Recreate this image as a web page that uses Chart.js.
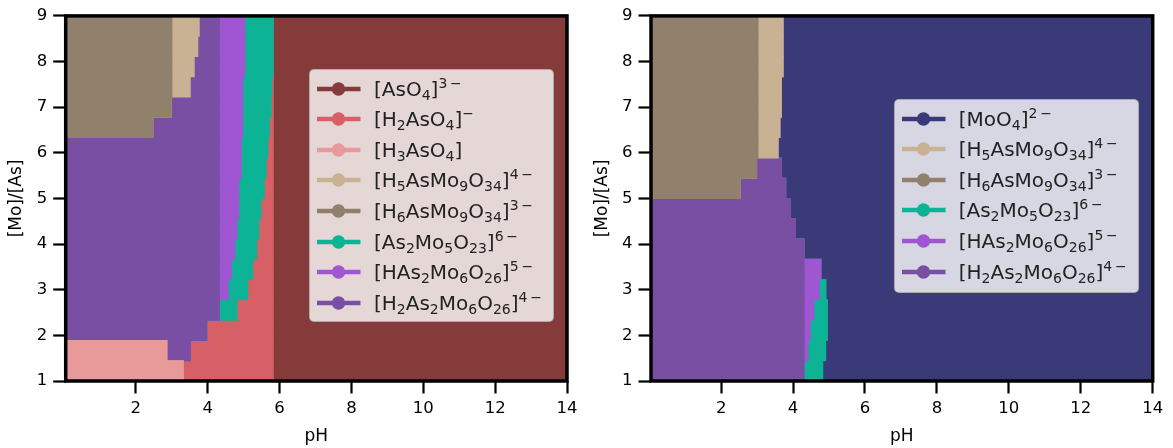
<!DOCTYPE html>
<html>
<head>
<meta charset="utf-8">
<script src="https://cdn.jsdelivr.net/npm/chart.js@4.4.0/dist/chart.umd.min.js"></script>
<style>
    body { margin: 0; background: #fff; width: 1173px; height: 448px; overflow: hidden; position: relative; font-family: "DejaVu Sans", sans-serif; }
    canvas { position: absolute; top: 0; }
    #left { left: 0; }
    #right { left: 586px; }
    .legend { position: absolute; width: 245px; box-sizing: border-box; padding-top: 3px; background: rgba(255, 255, 255, 0.8); border: 1.8px solid rgba(160, 160, 160, 0.8); border-radius: 5px; color: #222; font-size: 20px; }
    .item { height: 30.6px; display: flex; align-items: center; white-space: nowrap; }
    .item svg { margin-left: 4.7px; margin-right: 13px; flex: none; }
    .item span { line-height: 1; }
    sub { font-size: 0.7em; vertical-align: -0.28em; line-height: 0; }
    sup { font-size: 0.7em; vertical-align: 0.55em; line-height: 0; }
</style>
</head>
<body>
<canvas id="left" width="586" height="448"></canvas>
<canvas id="right" width="587" height="448"></canvas>
<div id="legend-left" class="legend" style="left:309.3px; top:69.3px; height:253px;"></div>
<div id="legend-right" class="legend" style="left:894px; top:99.3px; height:194px;"></div>
<script>

// Data

// [Mo]/[As] rows of the grid (row centres, bottom -> top)
var ratioRows = [1.222, 1.667, 2.111, 2.556, 3.000, 3.444, 3.889, 4.333, 4.778,
                 5.222, 5.667, 6.111, 6.556, 7.000, 7.444, 7.889, 8.333, 8.778];

var xTicks = [2, 4, 6, 8, 10, 12, 14];
var yTicks = [1, 2, 3, 4, 5, 6, 7, 8, 9];
var phMin = 0.05;
var phMax = 14;

// upper pH edge of every species field, per row (a field that is absent ends where the previous one ends)
var leftH3AsO4  = [3.34, 2.88, 0.05, 0.05, 0.05, 0.05, 0.05, 0.05, 0.05, 0.05, 0.05, 0.05, 0.05, 0.05, 0.05, 0.05, 0.05, 0.05];
var leftH6AsMo9 = [3.34, 2.88, 0.05, 0.05, 0.05, 0.05, 0.05, 0.05, 0.05, 0.05, 0.05, 0.05, 2.49, 3.00, 3.02, 3.02, 3.02, 3.02];
var leftH5AsMo9 = [3.34, 2.88, 0.05, 0.05, 0.05, 0.05, 0.05, 0.05, 0.05, 0.05, 0.05, 0.05, 2.49, 3.00, 3.53, 3.64, 3.74, 3.78];
var leftH2As2Mo6 = [3.34, 3.53, 3.99, 4.34, 4.34, 4.34, 4.34, 4.34, 4.34, 4.34, 4.34, 4.34, 4.34, 4.34, 4.34, 4.34, 4.34, 4.34];
var leftHAs2Mo6 = [3.34, 3.53, 3.99, 4.34, 4.59, 4.68, 4.77, 4.83, 4.88, 4.88, 4.95, 4.95, 4.99, 4.99, 4.99, 5.05, 5.05, 5.05];
var leftAs2Mo5  = [3.34, 3.53, 3.99, 4.83, 5.13, 5.27, 5.38, 5.44, 5.50, 5.59, 5.64, 5.69, 5.73, 5.78, 5.80, 5.84, 5.84, 5.84];
var leftH2AsO4  = [5.84, 5.84, 5.84, 5.84, 5.84, 5.84, 5.84, 5.84, 5.84, 5.84, 5.84, 5.84, 5.84, 5.84, 5.84, 5.84, 5.84, 5.84];
var leftAsO4    = [14, 14, 14, 14, 14, 14, 14, 14, 14, 14, 14, 14, 14, 14, 14, 14, 14, 14];

var rightH6AsMo9 = [0.05, 0.05, 0.05, 0.05, 0.05, 0.05, 0.05, 0.05, 0.05, 2.54, 3.00, 3.04, 3.04, 3.04, 3.04, 3.04, 3.04, 3.04];
var rightH5AsMo9 = [0.05, 0.05, 0.05, 0.05, 0.05, 0.05, 0.05, 0.05, 0.05, 2.54, 3.00, 3.60, 3.65, 3.69, 3.69, 3.74, 3.74, 3.74];
var rightH2As2Mo6 = [4.32, 4.32, 4.32, 4.32, 4.32, 4.32, 4.32, 4.08, 3.94, 3.81, 3.69, 3.60, 3.65, 3.69, 3.69, 3.74, 3.74, 3.74];
var rightHAs2Mo6 = [4.32, 4.43, 4.49, 4.59, 4.74, 4.79, 4.32, 4.08, 3.94, 3.81, 3.69, 3.60, 3.65, 3.69, 3.69, 3.74, 3.74, 3.74];
var rightAs2Mo5  = [4.84, 4.92, 4.97, 4.97, 4.93, 4.79, 4.32, 4.08, 3.94, 3.81, 3.69, 3.60, 3.65, 3.69, 3.69, 3.74, 3.74, 3.74];
var rightMoO4    = [14, 14, 14, 14, 14, 14, 14, 14, 14, 14, 14, 14, 14, 14, 14, 14, 14, 14];

var colors = {
    AsO4: '#843b3a', H2AsO4: '#d75f66', H3AsO4: '#e8999a', H5AsMo9: '#c9b293', H6AsMo9: '#91806c',
    As2Mo5: '#0cb495', HAs2Mo6: '#a055d2', H2As2Mo6: '#784fa3', MoO4: '#3a3a78'
};

var labels = {
    AsO4: '[AsO<sub>4</sub>]<sup>3\u2009\u2212</sup>',
    H2AsO4: '[H<sub>2</sub>AsO<sub>4</sub>]<sup>\u2212</sup>',
    H3AsO4: '[H<sub>3</sub>AsO<sub>4</sub>]',
    H5AsMo9: '[H<sub>5</sub>AsMo<sub>9</sub>O<sub>34</sub>]<sup>4\u2009\u2212</sup>',
    H6AsMo9: '[H<sub>6</sub>AsMo<sub>9</sub>O<sub>34</sub>]<sup>3\u2009\u2212</sup>',
    As2Mo5: '[As<sub>2</sub>Mo<sub>5</sub>O<sub>23</sub>]<sup>6\u2009\u2212</sup>',
    HAs2Mo6: '[HAs<sub>2</sub>Mo<sub>6</sub>O<sub>26</sub>]<sup>5\u2009\u2212</sup>',
    H2As2Mo6: '[H<sub>2</sub>As<sub>2</sub>Mo<sub>6</sub>O<sub>26</sub>]<sup>4\u2009\u2212</sup>',
    MoO4: '[MoO<sub>4</sub>]<sup>2\u2009\u2212</sup>'
};

// fields in pH order, and legend order
var leftFields = [['H3AsO4', leftH3AsO4], ['H6AsMo9', leftH6AsMo9], ['H5AsMo9', leftH5AsMo9], ['H2As2Mo6', leftH2As2Mo6],
                  ['HAs2Mo6', leftHAs2Mo6], ['As2Mo5', leftAs2Mo5], ['H2AsO4', leftH2AsO4], ['AsO4', leftAsO4]];
var leftLegend = ['AsO4', 'H2AsO4', 'H3AsO4', 'H5AsMo9', 'H6AsMo9', 'As2Mo5', 'HAs2Mo6', 'H2As2Mo6'];

var rightFields = [['H6AsMo9', rightH6AsMo9], ['H5AsMo9', rightH5AsMo9], ['H2As2Mo6', rightH2As2Mo6],
                   ['HAs2Mo6', rightHAs2Mo6], ['As2Mo5', rightAs2Mo5], ['MoO4', rightMoO4]];
var rightLegend = ['MoO4', 'H5AsMo9', 'H6AsMo9', 'As2Mo5', 'HAs2Mo6', 'H2As2Mo6'];


// Methods

var frame = {
    id: 'frame',
    afterDraw: function (chart) {
        var a = chart.chartArea, ctx = chart.ctx;
        ctx.save();
        ctx.strokeStyle = '#000';
        ctx.lineWidth = 3.5;
        ctx.strokeRect(a.left, a.top, a.right - a.left, a.bottom - a.top);
        ctx.restore();
    }
};

function fixedTicks(values) {
    return function (scale) {
        scale.ticks = values.map(function (v) { return { value: v }; });
    };
}

function init(id, fields, axisWidth, padRight) {
    // each field is drawn from the left edge; earlier fields lie on top (order)
    var datasets = fields.map(function (f, k) {
        return {
            label: f[0],
            data: ratioRows.map(function (r, i) { return { y: r, x: [phMin, f[1][i]] }; }),
            backgroundColor: colors[f[0]],
            borderWidth: 0,
            grouped: false,
            order: k,
            barPercentage: 1.05,
            categoryPercentage: 1
        };
    });

    var tickFont = { family: 'DejaVu Sans', size: 16.5 };
    var titleFont = { family: 'DejaVu Sans', size: 17 };

    return new Chart(document.getElementById(id), {
        type: 'bar',
        data: { datasets: datasets },
        options: {
            indexAxis: 'y',
            responsive: false,
            animation: false,
            layout: { padding: { top: 9.5, right: padRight, bottom: 0, left: 0 } },
            plugins: { legend: { display: false }, tooltip: { enabled: false } },
            scales: {
                x: {
                    type: 'linear', min: phMin, max: phMax,
                    afterBuildTicks: fixedTicks(xTicks),
                    afterFit: function (s) { s.height = 67; },
                    grid: { drawOnChartArea: false, tickLength: 12.5, tickWidth: 2.2, tickColor: '#000' },
                    border: { display: false },
                    ticks: { color: '#000', font: tickFont, padding: 5, maxRotation: 0 },
                    title: { display: true, text: 'pH', color: '#000', font: titleFont, padding: { top: 0, bottom: 1 } }
                },
                y: {
                    type: 'linear', min: 1, max: 9, offset: false,
                    afterBuildTicks: fixedTicks(yTicks),
                    afterFit: function (s) { s.width = axisWidth; },
                    grid: { offset: false, drawOnChartArea: false, tickLength: 12.5, tickWidth: 2.2, tickColor: '#000' },
                    border: { display: false },
                    ticks: { color: '#000', font: tickFont, padding: 6 },
                    title: { display: true, text: '[Mo]/[As]', color: '#000', font: titleFont, padding: { top: 6, bottom: 0 } }
                }
            }
        },
        plugins: [frame]
    });
}

function legend(id, keys) {
    var box = document.getElementById(id);
    keys.forEach(function (k) {
        var c = colors[k];
        var row = document.createElement('div');
        row.className = 'item';
        row.innerHTML = '<svg width="46" height="16">' +
            '<line x1="2" y1="8" x2="45.5" y2="8" stroke="' + c + '" stroke-width="4.5"/>' +
            '<circle cx="23.5" cy="8" r="6.7" fill="' + c + '"/></svg>' +
            '<span>' + labels[k] + '</span>';
        box.appendChild(row);
    });
}


// Events

init('left', leftFields, 65.7, 19);
init('right', rightFields, 65, 20.3);
legend('legend-left', leftLegend);
legend('legend-right', rightLegend);

</script>
</body>
</html>
